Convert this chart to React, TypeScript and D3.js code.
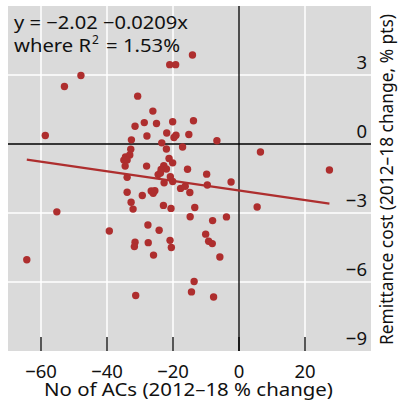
import { useEffect, useRef } from 'react';
import * as d3 from 'd3';

// No of ACs, 2012-18 % change
const acChange = [
  -14.1, -21.0, -19.2, -47.9, -52.9, -30.7, -26.1, -28.7, -25.0, -20.1,
  -13.8, -31.5, -58.7, -27.9, -21.9, -19.1, -19.7, -15.2, -32.6, -6.7,
  -23.4, -17.1, 6.5, -32.8, -22.0, -34.4, -33.1, -34.9, -33.9, -34.5,
  -28.0, -21.2, -20.1, -22.8, -22.0, -23.6, -15.6, -9.8, 27.4, -33.9,
  -24.5, -23.8, -20.8, -22.7, -20.1, -17.7, -16.3, -9.6, -2.4, -33.9,
  -29.3, -26.6, -25.5, -26.0, -14.9, -32.7, -32.1, -22.9, -20.6, -13.4,
  5.5, -55.2, -14.8, -8.0, -3.8, -27.6, -24.2, -39.3, -10.1, -31.5,
  -31.7, -27.5, -20.9, -20.5, -9.2, -8.1, -25.9, -5.8, -64.3, -13.6,
  -14.4, -7.7, -31.3,
];

// Remittance cost, 2012-18 change, % pts
const costChange = [
  3.87, 3.45, 3.45, 2.98, 2.5, 2.08, 1.43, 0.93, 0.89, 0.97,
  1.01, 0.77, 0.37, 0.35, 0.48, 0.38, 0.28, 0.41, 0.18, 0.14,
  0.05, -0.13, -0.35, -0.23, -0.22, -0.56, -0.48, -0.7, -0.7, -0.96,
  -0.96, -0.63, -0.82, -0.94, -1.09, -1.11, -1.1, -1.31, -1.13, -1.45,
  -1.33, -1.26, -1.42, -1.69, -1.63, -1.93, -1.84, -1.78, -1.65, -2.1,
  -2.24, -2.04, -2.03, -2.14, -2.11, -2.53, -2.83, -2.67, -2.8, -2.76,
  -2.74, -2.95, -3.16, -3.33, -3.17, -3.52, -3.75, -3.78, -3.92, -4.27,
  -4.46, -4.29, -4.19, -4.5, -4.23, -4.33, -4.83, -4.91, -5.03, -5.98,
  -6.43, -6.65, -6.59,
];

const xTicks = [-60, -40, -20, 0, 20];
const yTicks = [3, 0, -3, -6, -9];

const intercept = -2.02;
const slope = -0.0209;

const red = '#ae2e2e';
const ink = '#111';
const fontFamily = "'Noto Sans', sans-serif";
const fontSize = 18.5;

function fmt(v: number) {
  return v < 0 ? `\u2212${Math.abs(v)}` : `${v}`;
}

export default function App() {
  const svgRef = useRef<SVGSVGElement>(null);

  useEffect(() => {
    if (!svgRef.current) return;

    const width = 398;
    const height = 409;
    const plot = { left: 8, right: 371, top: 6, bottom: 351 };

    d3.select(svgRef.current).selectAll('*').remove();

    const svg = d3
      .select(svgRef.current)
      .attr('width', width)
      .attr('height', height)
      .attr('viewBox', `0 0 ${width} ${height}`)
      .style('font-family', fontFamily);

    const x = d3.scaleLinear().domain([-70, 40]).range([plot.left, plot.right]);
    const y = d3.scaleLinear().domain([-9, 6]).range([plot.bottom, plot.top]);

    // Background
    svg
      .append('rect')
      .attr('x', plot.left)
      .attr('y', plot.top)
      .attr('width', plot.right - plot.left)
      .attr('height', plot.bottom - plot.top)
      .attr('fill', '#dadada');

    // Grid
    svg
      .append('g')
      .selectAll('line')
      .data(xTicks.filter((d) => d !== 0))
      .enter()
      .append('line')
      .attr('x1', (d) => x(d))
      .attr('x2', (d) => x(d))
      .attr('y1', plot.top)
      .attr('y2', plot.bottom)
      .attr('stroke', '#fff')
      .attr('stroke-width', 1.5);

    svg
      .append('g')
      .selectAll('line')
      .data(yTicks.filter((d) => d !== 0 && d !== -9))
      .enter()
      .append('line')
      .attr('x1', plot.left)
      .attr('x2', plot.right)
      .attr('y1', (d) => y(d))
      .attr('y2', (d) => y(d))
      .attr('stroke', '#fff')
      .attr('stroke-width', 1.5);

    // Zero lines
    svg
      .append('line')
      .attr('x1', x(0))
      .attr('x2', x(0))
      .attr('y1', plot.top)
      .attr('y2', plot.bottom)
      .attr('stroke', '#000')
      .attr('stroke-width', 1.3);

    svg
      .append('line')
      .attr('x1', plot.left)
      .attr('x2', plot.right)
      .attr('y1', y(0))
      .attr('y2', y(0))
      .attr('stroke', '#000')
      .attr('stroke-width', 1.3);

    // Bottom tick marks
    svg
      .append('g')
      .selectAll('line')
      .data(xTicks)
      .enter()
      .append('line')
      .attr('x1', (d) => x(d))
      .attr('x2', (d) => x(d))
      .attr('y1', plot.bottom - 14)
      .attr('y2', plot.bottom)
      .attr('stroke', '#000')
      .attr('stroke-width', 1.3);

    // Points
    const points = acChange.map((v, i) => ({ x: v, y: costChange[i] }));
    svg
      .append('g')
      .selectAll('circle')
      .data(points)
      .enter()
      .append('circle')
      .attr('cx', (d) => x(d.x))
      .attr('cy', (d) => y(d.y))
      .attr('r', 3.7)
      .attr('fill', red);

    // Regression line over the data range
    const [xMin, xMax] = d3.extent(acChange) as [number, number];
    const line = d3
      .line<number>()
      .x((d) => x(d))
      .y((d) => y(intercept + slope * d));
    svg
      .append('path')
      .attr('d', line([xMin, xMax]))
      .attr('stroke', red)
      .attr('stroke-width', 2.2)
      .attr('fill', 'none');

    // X tick labels
    svg
      .append('g')
      .selectAll('text')
      .data(xTicks)
      .enter()
      .append('text')
      .attr('x', (d) => x(d))
      .attr('y', 378)
      .attr('text-anchor', 'middle')
      .attr('font-size', fontSize)
      .attr('fill', ink)
      .text((d) => fmt(d));

    // Y tick labels
    svg
      .append('g')
      .selectAll('text')
      .data(yTicks)
      .enter()
      .append('text')
      .attr('x', 367)
      .attr('y', (d) => y(d) - 6)
      .attr('text-anchor', 'end')
      .attr('font-size', fontSize)
      .attr('fill', ink)
      .text((d) => fmt(d));

    // Axis titles
    svg
      .append('text')
      .attr('x', 44)
      .attr('y', 396)
      .attr('font-size', 18)
      .attr('fill', ink)
      .attr('textLength', 289)
      .attr('lengthAdjust', 'spacingAndGlyphs')
      .text('No of ACs (2012\u201318 % change)');

    svg
      .append('text')
      .attr('transform', `translate(393, 345) rotate(-90)`)
      .attr('font-size', 18)
      .attr('fill', ink)
      .attr('textLength', 331)
      .attr('lengthAdjust', 'spacingAndGlyphs')
      .text('Remittance cost (2012\u201318 change, % pts)');

    // Regression annotation
    svg
      .append('text')
      .attr('x', 14)
      .attr('y', 29)
      .attr('font-size', 18)
      .attr('fill', ink)
      .attr('textLength', 174)
      .attr('lengthAdjust', 'spacingAndGlyphs')
      .text(`y = ${fmt(intercept)} ${fmt(slope)}x`);

    const r2 = svg.append('g').attr('font-size', 18).attr('fill', ink);
    r2.append('text')
      .attr('x', 14)
      .attr('y', 52)
      .attr('textLength', 77)
      .attr('lengthAdjust', 'spacingAndGlyphs')
      .text('where R');
    r2.append('text').attr('x', 92).attr('y', 44).attr('font-size', 12).text('2');
    r2.append('text')
      .attr('x', 106)
      .attr('y', 52)
      .attr('textLength', 74)
      .attr('lengthAdjust', 'spacingAndGlyphs')
      .text('= 1.53%');
  }, []);

  return (
    <svg
      ref={svgRef}
      style={{ position: 'absolute', left: 0, top: 0, display: 'block' }}
    />
  );
}
